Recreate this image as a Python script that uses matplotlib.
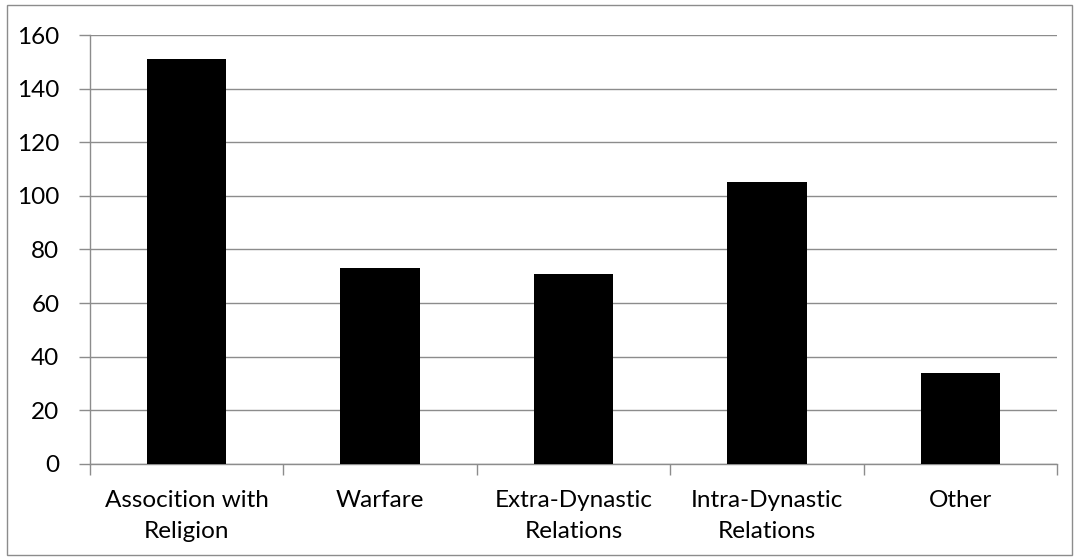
import matplotlib
matplotlib.use("Agg")
import matplotlib.pyplot as plt
from matplotlib.patches import Rectangle
import numpy as np

categories = ["Assocition with\nReligion", "Warfare", "Extra-Dynastic\nRelations",
              "Intra-Dynastic\nRelations", "Other"]
values = [151, 73, 71, 105, 34]
y_ticks = [0, 20, 40, 60, 80, 100, 120, 140, 160]

plt.rcParams["font.family"] = ["Lato", "DejaVu Sans"]

fig = plt.figure(figsize=(10.77, 5.60), dpi=100)
ax = fig.add_axes([90 / 1077, (560 - 464) / 560, (1057 - 90) / 1077, (464 - 35) / 560])

grid_col = "#8c8c8c"
x = np.arange(len(categories))
ax.bar(x, values, width=0.41, color="black", zorder=3)

ax.set_xlim(-0.5, len(categories) - 0.5)
ax.set_ylim(0, 160)
ax.set_yticks(y_ticks)
ax.set_yticklabels([str(v) for v in y_ticks])
ax.yaxis.grid(True, color=grid_col, linewidth=1.0, zorder=0)

# category boundary ticks on the x axis
ax.set_xticks(np.arange(-0.5, len(categories), 1.0))
ax.set_xticklabels([])
ax.set_xticks(x, minor=True)
ax.set_xticklabels(categories, minor=True, linespacing=1.55)
ax.tick_params(axis="x", which="major", length=8, color=grid_col, width=1.0)
ax.tick_params(axis="x", which="minor", length=0, pad=19, labelsize=17.5)
ax.tick_params(axis="y", length=8, color=grid_col, width=1.0, labelsize=17.5, pad=14)

for side in ("top", "right"):
    ax.spines[side].set_visible(False)
for side in ("left", "bottom"):
    ax.spines[side].set_color(grid_col)
    ax.spines[side].set_linewidth(1.0)

# chart area frame
fig.patches.append(Rectangle((7 / 1077, 5 / 560), (1072 - 7) / 1077, (555 - 5) / 560,
                             transform=fig.transFigure, fill=False,
                             edgecolor=grid_col, linewidth=1.0))

fig.savefig("out.png", dpi=100)
